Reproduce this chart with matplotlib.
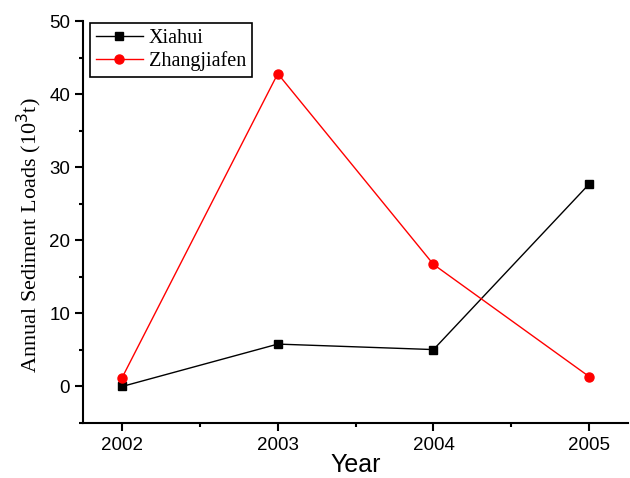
import matplotlib.pyplot as plt
from matplotlib.ticker import MultipleLocator

years = [2002, 2003, 2004, 2005]
xiahui = [0.0, 5.8, 5.05, 27.7]
zhangjiafen = [1.2, 42.8, 16.7, 1.35]

fig = plt.figure(figsize=(6.3, 4.78), dpi=100)
ax = fig.add_axes([0.132, 0.115, 0.865, 0.841])

ax.plot(years, xiahui, color='black', marker='s', markersize=6, lw=1, label='Xiahui')
ax.plot(years, zhangjiafen, color='red', marker='o', markersize=6.5, lw=1, label='Zhangjiafen')

ax.set_xlim(2001.75, 2005.25)
ax.set_ylim(-5, 50)
ax.set_xticks(years)
ax.xaxis.set_minor_locator(MultipleLocator(0.5))
ax.yaxis.set_major_locator(MultipleLocator(10))
ax.yaxis.set_minor_locator(MultipleLocator(5))

for side in ('top', 'right'):
    ax.spines[side].set_visible(False)
for side in ('left', 'bottom'):
    ax.spines[side].set_linewidth(1.5)
ax.tick_params(which='major', direction='out', length=5.8, width=1.5,
               labelsize=13.5, labelfontfamily='Liberation Sans')
ax.tick_params(axis='x', which='major', pad=4)
ax.tick_params(axis='y', which='major', pad=3.5)
ax.tick_params(which='minor', direction='out', length=3, width=1.5)

ax.set_xlabel('Year', fontsize=18, family='Liberation Sans')
ax.xaxis.set_label_coords(0.5, -0.075)
ax.set_ylabel('Annual Sediment Loads (10$^3$t)', fontsize=16,
              family='Liberation Serif')
ax.yaxis.set_label_coords(-0.072, 0.468)

leg = ax.legend(loc='upper left', bbox_to_anchor=(0.013, 0.995),
                prop={'family': 'Liberation Serif', 'size': 14.5},
                fancybox=False, edgecolor='black', framealpha=1,
                borderaxespad=0, handlelength=2.3, handletextpad=0.3,
                borderpad=0.3, labelspacing=0.15)
leg.get_frame().set_linewidth(1.2)

fig.savefig('out.png', dpi=100)
